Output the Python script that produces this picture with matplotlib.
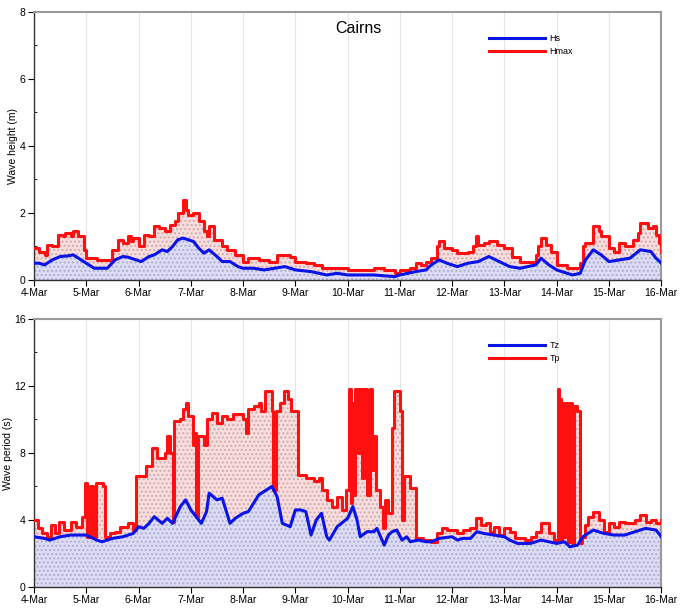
import datetime as dt
import matplotlib
matplotlib.use("Agg")
import matplotlib.pyplot as plt
import matplotlib.dates as mdates
from matplotlib.ticker import MultipleLocator

# times are day-of-March (fractional), values read at those times
hs_t = [4.0, 4.1, 4.2, 4.35, 4.5, 4.65, 4.75, 4.85, 5.0, 5.15, 5.4, 5.55, 5.7, 5.8,
        5.95, 6.05, 6.2, 6.3, 6.45, 6.55, 6.65, 6.75, 6.85, 6.95, 7.05, 7.15, 7.25,
        7.35, 7.5, 7.6, 7.75, 7.9, 8.0, 8.2, 8.4, 8.6, 8.8, 9.0, 9.3, 9.6, 9.8, 10.0,
        10.5, 10.9, 11.0, 11.3, 11.5, 11.6, 11.75, 11.9, 12.1, 12.3, 12.5, 12.7, 12.9,
        13.1, 13.3, 13.6, 13.7, 13.85, 14.0, 14.3, 14.45, 14.55, 14.7, 14.85, 15.0,
        15.2, 15.4, 15.6, 15.8, 15.9, 16.0]
hs = [0.5, 0.5, 0.45, 0.6, 0.7, 0.72, 0.75, 0.65, 0.5, 0.35, 0.35, 0.6, 0.7, 0.68,
      0.6, 0.55, 0.7, 0.75, 0.9, 0.85, 1.0, 1.2, 1.25, 1.2, 1.15, 0.95, 0.8,
      0.9, 0.7, 0.55, 0.55, 0.4, 0.35, 0.35, 0.3, 0.35, 0.4, 0.3, 0.25, 0.15, 0.2, 0.15,
      0.15, 0.1, 0.15, 0.25, 0.3, 0.45, 0.6, 0.5, 0.4, 0.5, 0.55, 0.7, 0.55,
      0.4, 0.35, 0.45, 0.65, 0.45, 0.3, 0.15, 0.2, 0.6, 0.9, 0.75, 0.55,
      0.6, 0.65, 0.9, 0.85, 0.65, 0.5]

hmax_t = [4.0, 4.1, 4.2, 4.25, 4.35, 4.45, 4.55, 4.6, 4.7, 4.75, 4.85, 4.95, 5.0,
          5.2, 5.4, 5.5, 5.6, 5.7, 5.8, 5.85, 5.9, 6.0, 6.1, 6.2, 6.3, 6.4, 6.5,
          6.6, 6.7, 6.75, 6.85, 6.9, 6.95, 7.05, 7.15, 7.25, 7.3, 7.35, 7.45, 7.6,
          7.7, 7.85, 8.0, 8.1, 8.3, 8.5, 8.65, 8.9, 9.0, 9.2, 9.35, 9.5, 9.7, 10.0,
          10.3, 10.5, 10.7, 10.9, 11.0, 11.2, 11.3, 11.4, 11.5, 11.6, 11.7, 11.75,
          11.85, 12.0, 12.1, 12.3, 12.4, 12.45, 12.5, 12.6, 12.7, 12.85, 13.0, 13.15,
          13.3, 13.5, 13.6, 13.65, 13.7, 13.8, 13.9, 14.0, 14.2, 14.35, 14.45, 14.5,
          14.55, 14.7, 14.8, 14.85, 15.0, 15.1, 15.2, 15.3, 15.45, 15.55, 15.6,
          15.75, 15.85, 15.9, 15.95, 16.0]
hmax = [0.95, 0.85, 0.75, 1.05, 1.0, 1.35, 1.3, 1.4, 1.3, 1.45, 1.3, 0.9, 0.65,
        0.6, 0.6, 0.9, 1.2, 1.1, 1.3, 1.15, 1.25, 1.0, 1.35, 1.3, 1.6, 1.55, 1.45,
        1.65, 1.75, 2.0, 2.4, 2.1, 1.95, 2.0, 1.75, 1.45, 1.3, 1.6, 1.2, 1.0,
        0.9, 0.75, 0.55, 0.65, 0.6, 0.55, 0.75, 0.7, 0.55, 0.5, 0.45, 0.35, 0.35, 0.3,
        0.3, 0.35, 0.3, 0.2, 0.3, 0.35, 0.5, 0.45, 0.55, 0.65, 1.0, 1.15,
        0.95, 0.9, 0.8, 0.85, 1.0, 1.3, 1.05, 1.1, 1.15, 1.05, 0.95, 0.7,
        0.55, 0.55, 0.75, 1.0, 1.25, 1.05, 0.85, 0.45, 0.35, 0.35, 0.5, 1.0,
        1.1, 1.6, 1.45, 1.3, 0.95, 0.85, 1.1, 1.0, 1.2, 1.4, 1.7,
        1.55, 1.6, 1.35, 1.1, 0.85]

tz_t = [4.0, 4.2, 4.3, 4.5, 4.7, 5.0, 5.2, 5.3, 5.5, 5.7, 5.9, 6.0, 6.1, 6.2, 6.3,
        6.45, 6.55, 6.65, 6.8, 6.9, 7.0, 7.1, 7.2, 7.3, 7.35, 7.5, 7.6, 7.75, 7.85,
        8.0, 8.1, 8.2, 8.3, 8.45, 8.55, 8.65, 8.75, 8.9, 9.0, 9.1, 9.2, 9.3, 9.4,
        9.5, 9.6, 9.65, 9.8, 9.92, 10.0, 10.1, 10.18, 10.24, 10.37, 10.5, 10.56,
        10.7, 10.78, 10.85, 10.94, 11.04, 11.13, 11.2, 11.35, 11.5, 11.6, 11.75,
        12.0, 12.1, 12.2, 12.35, 12.47, 12.6, 12.8, 13.0, 13.1, 13.25, 13.5, 13.7,
        13.85, 14.0, 14.15, 14.25, 14.4, 14.5, 14.7, 14.9, 15.1, 15.3, 15.5, 15.7,
        15.9, 16.0]
tz = [3.0, 2.9, 2.8, 3.0, 3.1, 3.1, 2.8, 2.7, 2.9, 3.0, 3.2, 3.6, 3.5, 3.8, 4.2,
      3.8, 4.1, 3.8, 4.8, 5.2, 4.6, 4.2, 3.8, 4.5, 5.6, 5.2, 5.3, 3.8, 4.1,
      4.4, 4.5, 5.0, 5.5, 5.8, 6.0, 5.4, 3.8, 3.6, 4.6, 4.6, 4.5, 3.1, 4.0,
      4.4, 3.0, 2.8, 3.6, 3.9, 4.1, 4.8, 4.0, 3.0, 3.3, 3.3, 3.5,
      2.5, 3.1, 3.3, 3.4, 2.8, 3.0, 2.7, 2.8, 2.7, 2.7, 2.9,
      3.0, 2.8, 2.9, 2.9, 3.3, 3.2, 3.1, 3.0, 2.8, 2.6, 2.6, 2.8,
      2.7, 2.6, 2.7, 2.4, 2.5, 3.0, 3.4, 3.2, 3.1, 3.1, 3.3, 3.5,
      3.4, 3.0]

tp_t = [4.0, 4.08, 4.15, 4.25, 4.32, 4.4, 4.48, 4.58, 4.7, 4.8, 4.92, 4.98, 5.02,
        5.08, 5.12, 5.18, 5.32, 5.36, 5.45, 5.55, 5.65, 5.8, 5.9, 5.96, 6.1, 6.15,
        6.25, 6.35, 6.5, 6.55, 6.6, 6.65, 6.68, 6.8, 6.85, 6.9, 6.95, 7.05, 7.08,
        7.1, 7.14, 7.25, 7.3, 7.4, 7.5, 7.6, 7.7, 7.8, 8.0, 8.05, 8.1, 8.2, 8.3,
        8.35, 8.42, 8.5, 8.55, 8.58, 8.62, 8.7, 8.78, 8.85, 8.92, 9.05, 9.2, 9.35,
        9.45, 9.5, 9.6, 9.7, 9.8, 9.9, 9.96, 10.03, 10.06, 10.09, 10.12, 10.15,
        10.19, 10.23, 10.28, 10.32, 10.37, 10.42, 10.46, 10.5, 10.55, 10.62, 10.68,
        10.72, 10.78, 10.84, 10.88, 10.96, 11.0, 11.04, 11.08, 11.2, 11.31, 11.45,
        11.6, 11.7, 11.8, 11.9, 12.1, 12.2, 12.35, 12.45, 12.55, 12.65, 12.72,
        12.8, 12.9, 13.0, 13.1, 13.2, 13.4, 13.5, 13.6, 13.7, 13.85, 13.95, 14.02,
        14.05, 14.08, 14.1, 14.14, 14.17, 14.22, 14.25, 14.3, 14.33, 14.38, 14.44,
        14.48, 14.55, 14.6, 14.7, 14.8, 14.9, 15.0, 15.1, 15.2, 15.3, 15.5, 15.6,
        15.7, 15.8, 15.9, 16.0]
tp = [4.0, 3.5, 3.2, 3.0, 3.7, 3.2, 3.9, 3.4, 3.9, 3.6, 4.2, 6.2, 3.0,
      6.0, 3.0, 6.2, 6.0, 3.0, 3.2, 3.3, 3.6, 3.8, 3.4, 6.6, 6.6, 7.2,
      8.3, 7.7, 8.0, 9.0, 8.0, 3.9, 9.9, 10.0, 10.6, 11.0, 10.2, 8.5, 9.2,
      4.2, 9.0, 8.5, 10.0, 10.4, 9.8, 10.2, 10.0, 10.3, 10.0, 9.2, 10.6, 10.8, 11.0,
      10.5, 11.7, 11.7, 10.5, 5.8, 10.5, 11.0, 11.7, 11.2, 10.5, 6.7, 6.5, 6.3,
      6.5, 5.8, 5.2, 4.8, 5.4, 4.6, 5.8, 11.8, 5.0, 11.0, 5.5, 11.8,
      8.0, 11.8, 6.5, 11.8, 5.5, 11.8, 7.0, 9.0, 5.8, 4.8, 3.5,
      5.2, 4.4, 9.5, 11.7, 11.7, 10.5, 4.0, 6.6, 5.9, 2.9, 2.8,
      2.7, 3.2, 3.5, 3.4, 3.2, 3.4, 3.5, 4.1, 3.7, 3.8, 3.3,
      3.6, 3.1, 3.5, 3.3, 2.9, 2.8, 3.0, 3.3, 3.8, 3.2, 2.8, 11.8,
      11.2, 2.8, 11.0, 3.0, 11.0, 2.7, 11.0, 2.6, 10.8, 10.5, 2.6,
      3.0, 3.7, 4.2, 4.5, 4.0, 3.3, 3.8, 3.6, 3.9, 3.8, 4.0, 4.3,
      3.9, 4.0, 3.8, 4.0]

BLUE = "#0a14e6"
RED = "#ff1010"


def to_dates(days):
    base = dt.datetime(2011, 3, 1)
    return [mdates.date2num(base + dt.timedelta(days=d - 1)) for d in days]


def style_axes(ax, ymax, ystep, yminor):
    ax.set_xlim(to_dates([4.0, 16.0]))
    ax.set_ylim(0, ymax)
    ax.xaxis.set_major_locator(mdates.DayLocator())
    ax.xaxis.set_major_formatter(mdates.DateFormatter("%-d-%b"))
    ax.xaxis.set_minor_locator(mdates.HourLocator(byhour=[6, 12, 18]))
    ax.yaxis.set_major_locator(MultipleLocator(ystep))
    ax.yaxis.set_minor_locator(MultipleLocator(yminor))
    ax.tick_params(which="major", direction="out", length=4, labelsize=7.5, pad=2)
    ax.tick_params(which="minor", direction="in", length=2.5)
    ax.grid(True, axis="x", color="#e6e6e6", linewidth=0.8)
    for side in ("top", "right"):
        ax.spines[side].set_color("#9a9a9a")
        ax.spines[side].set_linewidth(1.5)
    for side in ("left", "bottom"):
        ax.spines[side].set_color("#333333")
        ax.spines[side].set_linewidth(1.0)
    ax.set_axisbelow(True)


def draw_pair(ax, low_t, low, high_t, high, low_label, high_label):
    lx, hx = to_dates(low_t), to_dates(high_t)
    ax.fill_between(hx, 0, high, step="post", facecolor="#fbdcdc",
                    edgecolor="#c8b0b0", hatch="....", linewidth=0, zorder=1)
    ax.fill_between(lx, 0, low, facecolor="#dcdcf8",
                    edgecolor="#b0b0c8", hatch="....", linewidth=0, zorder=2)
    ax.plot(lx, low, color=BLUE, linewidth=2.2, label=low_label, zorder=4)
    ax.plot(hx, high, color=RED, linewidth=2.2, drawstyle="steps-post",
            label=high_label, zorder=3)
    handles, labels = ax.get_legend_handles_labels()
    ax.legend(handles, labels, loc="upper left", bbox_to_anchor=(0.72, 0.93),
              frameon=False, fontsize=6.5, handlelength=6.2, handletextpad=0.5,
              labelspacing=0.45, borderaxespad=0)


def main():
    assert len(hs_t) == len(hs) and len(hmax_t) == len(hmax)
    assert len(tz_t) == len(tz) and len(tp_t) == len(tp)

    plt.rcParams["font.family"] = ["Liberation Sans", "DejaVu Sans"]
    fig = plt.figure(figsize=(6.81, 6.14), dpi=100)
    ax1 = fig.add_axes([0.050, 0.544, 0.921, 0.4365])
    ax2 = fig.add_axes([0.050, 0.044, 0.921, 0.4365])

    draw_pair(ax1, hs_t, hs, hmax_t, hmax, "Hs", "Hmax")
    style_axes(ax1, 8, 2, 1)
    ax1.set_ylabel("Wave height (m)", fontsize=7.5, labelpad=1)
    ax1.text(0.517, 0.94, "Cairns", transform=ax1.transAxes,
             ha="center", va="center", fontsize=11.5)

    draw_pair(ax2, tz_t, tz, tp_t, tp, "Tz", "Tp")
    style_axes(ax2, 16, 4, 2)
    ax2.set_ylabel("Wave period (s)", fontsize=7.5, labelpad=1)

    fig.savefig("out.png", dpi=100)
    plt.close(fig)


if __name__ == "__main__":
    main()
